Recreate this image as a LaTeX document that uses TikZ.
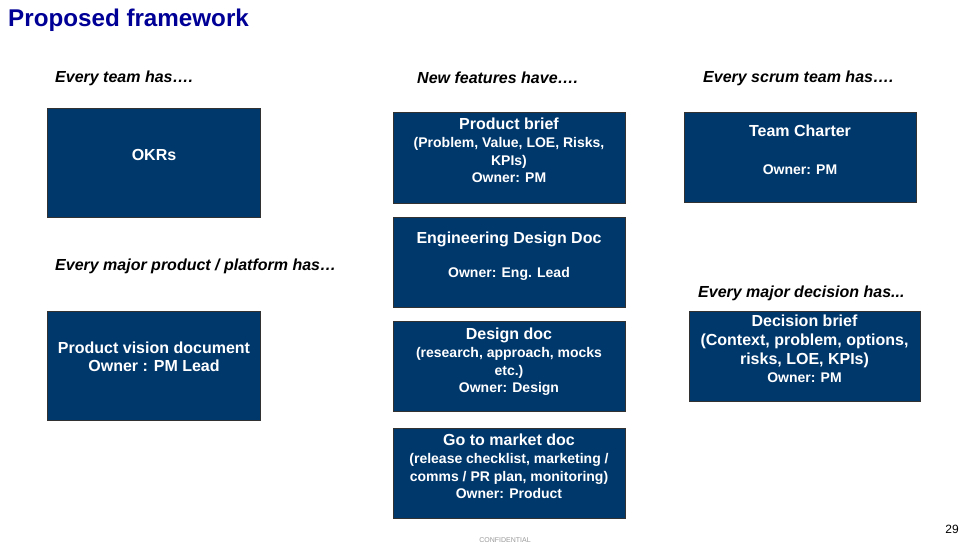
\documentclass[tikz,border=0pt]{standalone}
\usepackage{fontspec}
\setmainfont{Liberation Sans}
\usetikzlibrary{positioning}
\definecolor{navy}{RGB}{0,56,108}
\definecolor{titleblue}{RGB}{0,0,150}
\definecolor{boxline}{RGB}{50,50,50}
\tikzstyle{doc} = [rectangle, draw=boxline, fill=navy, line width=0.8pt, inner sep=0pt]
\tikzstyle{doctext} = [text=white, font=\bfseries\fontsize{14}{17.5}\selectfont, align=center, inner sep=0pt]
\tikzstyle{heading} = [font=\bfseries\itshape\fontsize{16}{18}\selectfont, anchor=west, inner sep=0pt]
\newcommand{\dochead}[1]{{\fontsize{16}{18}\selectfont #1}}

\begin{document}
\begin{tikzpicture}[x=1pt, y=-1pt]
                \useasboundingbox (0,0) rectangle (974,547);
                \node (title) [anchor=west, inner sep=0pt, text=titleblue, font=\bfseries\fontsize{24.2}{28}\selectfont] at (8,20.5) {Proposed framework};

                \node (teamhas) [heading] at (55,78) {Every team has….};
                \node (featurehas) [heading] at (417,78) {New features have….};
                \node (scrumhas) [heading] at (703,78) {Every scrum team has….};
                \node (producthas) [heading] at (55,266) {Every major product / platform has…};
                \node (decisionhas) [heading] at (698,293) {Every major decision has...};

                \node (okr) [doc, minimum width=213pt, minimum height=109pt] at (153.5,162.5) {};
                \node (okrtext) [doctext] at (154,155) {\dochead{OKRs}};
                \node (vision) [doc, minimum width=213pt, minimum height=109pt] at (153.5,365.5) {};
                \node (visiontext) [doctext, font=\bfseries\fontsize{16}{18.5}\selectfont] at (154,357) {Product vision document\\Owner : PM Lead};

                \node (brief) [doc, minimum width=232pt, minimum height=91pt] at (509,157.5) {};
                \node (brieftext) [doctext, below=6pt of brief.north] {\dochead{Product brief}\\[1pt](Problem, Value, LOE, Risks,\\KPIs)\\Owner: PM};
                \node (engdoc) [doc, minimum width=232pt, minimum height=90pt] at (509,262) {};
                \node (engdoctext) [doctext, below=15pt of engdoc.north] {\dochead{Engineering Design Doc}\\[17pt]Owner: Eng. Lead};
                \node (design) [doc, minimum width=232pt, minimum height=90pt] at (509,366) {};
                \node (designtext) [doctext, below=7pt of design.north] {\dochead{Design doc}\\[1pt](research, approach, mocks\\etc.)\\Owner: Design};
                \node (gtm) [doc, minimum width=232pt, minimum height=90pt] at (509,473) {};
                \node (gtmtext) [doctext, below=6pt of gtm.north] {\dochead{Go to market doc}\\[1pt](release checklist, marketing /\\comms / PR plan, monitoring)\\Owner: Product};

                \node (charter) [doc, minimum width=232pt, minimum height=90pt] at (800,157) {};
                \node (chartertext) [doctext, below=13pt of charter.north] {\dochead{Team Charter}\\[21pt]Owner: PM};
                \node (decision) [doc, minimum width=231pt, minimum height=90pt] at (804.5,356) {};
                \node (decisiontext) [doctext, below=4pt of decision.north] {\dochead{Decision brief}\\[2pt]\dochead{(Context, problem, options,}\\[1pt]\dochead{risks, LOE, KPIs)}\\[1pt]Owner: PM};

                \node (confidential) [text=black!40, font=\fontsize{7}{8}\selectfont] at (505,540) {CONFIDENTIAL};
                \node (pagenum) [font=\fontsize{12}{14}\selectfont] at (952,529) {29};
            \end{tikzpicture}
\end{document}
